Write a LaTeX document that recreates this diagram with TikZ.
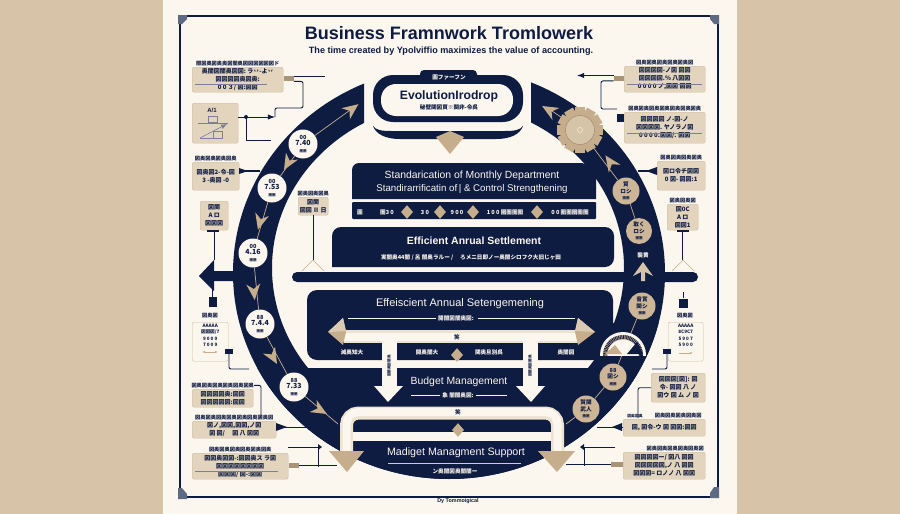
\documentclass[tikz,border=0pt]{standalone}
\usepackage{fontspec}
\setmainfont{Liberation Sans}
\newfontfamily\jpf{Noto Sans CJK JP}
\usetikzlibrary{arrows.meta,calc,positioning,shapes.geometric}
\definecolor{sideTan}{HTML}{D6C3A8}
\definecolor{paper}{HTML}{FBF6EE}
\definecolor{inkNavy}{HTML}{0F1C42}
\definecolor{goldTan}{HTML}{C6AE8C}
\definecolor{panelTan}{HTML}{E2D4BD}
\definecolor{panelEdge}{HTML}{CDBB9F}
\definecolor{pipeShade}{HTML}{EDE3CF}
\definecolor{cornerSlate}{HTML}{5E6A82}
\tikzset{
  panelbox/.style={fill=panelTan,draw=panelEdge,rounded corners=2pt,anchor=north west,inner sep=1pt,align=center,text=inkNavy,font=\jpf\bfseries\fontsize{6}{8}\selectfont},
  linebox/.style={panelbox,fill=paper},
  panelhead/.style={inner sep=0pt,text=inkNavy,font=\jpf\bfseries\fontsize{5.2}{5.5}\selectfont},
  tabstub/.style={fill=goldTan!85!black,minimum width=10pt,minimum height=5pt,inner sep=0pt,yshift=1pt},
  navystub/.style={fill=inkNavy,minimum width=7pt,minimum height=8pt,inner sep=0pt},
  wire/.style={draw=inkNavy,line width=.9pt},
  hair/.style={draw=inkNavy!55,line width=.3pt},
  thread/.style={draw=goldTan,line width=.7pt},
  titletext/.style={inner sep=0pt,text=inkNavy,font=\bfseries\fontsize{18}{20}\selectfont},
  subtitletext/.style={inner sep=0pt,text=inkNavy,font=\bfseries\fontsize{9.1}{11}\selectfont},
  bandtext/.style={inner sep=0pt,text=paper,font=\fontsize{11}{12}\selectfont},
  jptext/.style={inner sep=0pt,text=paper,font=\jpf\bfseries\fontsize{5.6}{6}\selectfont},
  discw/.style={circle,fill=paper,minimum size=29pt,inner sep=0pt,align=center,text=inkNavy,font=\jpf\bfseries\fontsize{5.6}{6.6}\selectfont},
  disct/.style={discw,fill=goldTan!90!white},
  chevron/.pic={\fill[goldTan] (-8,-7) -- (8,0) -- (-8,7) -- (-3,0) -- cycle;},
  gemmark/.pic={\fill[goldTan] (-7,0) -- (0,-8) -- (7,0) -- (0,8) -- cycle;},
}
\begin{document}
\begin{tikzpicture}[x=1pt,y=-1pt,>=Latex]
  \useasboundingbox (0,0) rectangle (900,514);
  \fill[sideTan] (0,0) rectangle (900,514);
  \fill[paper] (163,0) rectangle (737,514);
  % frame
  \draw[inkNavy,line width=1.2pt] (180,16) rectangle (718,497);
  \fill[cornerSlate] (178,15) -- (187,15) -- (187,19) -- (182,24) -- (178,24) -- cycle;
  \fill[cornerSlate] (710,15) -- (719,15) -- (719,24) -- (714,24) -- (710,19) -- cycle;
  \fill[cornerSlate] (178,488) -- (182,488) -- (187,494) -- (187,499) -- (178,499) -- cycle;
  \fill[cornerSlate] (714,487) -- (719,487) -- (719,498) -- (710,498) -- (710,493) -- cycle;
  % big ring
  \begin{scope}
    \clip (100,0) -- (364,0) -- (364,150) -- (531,150) -- (531,0) -- (800,0) -- (800,514) -- (100,514) -- cycle;
    \fill[inkNavy,even odd rule] (449,273) ellipse [x radius=216,y radius=206] (448,268) ellipse [x radius=176,y radius=165];
  \end{scope}
  \begin{scope}
    \clip (449,273) ellipse [x radius=216,y radius=206];
    \fill[inkNavy] (596,323) -- (700,323) -- (700,500) -- (200,500) -- (200,368) -- (592,368) -- (595,360) -- cycle;
  \end{scope}
  % left and right bars
  \fill[inkNavy,rounded corners=5pt] (292,272) rectangle (698,282);
  \fill[inkNavy] (199,276) -- (214,260) -- (214,271) -- (236,271) -- (236,281) -- (214,281) -- (214,291) -- cycle;
  % evolution box
  \fill[inkNavy,rounded corners=4pt] (420,70) rectangle (477,80);
  \fill[inkNavy,rounded corners=20pt] (373,75) rectangle (523,122);
  \fill[paper,rounded corners=15pt] (381,84) rectangle (513,116);
  \fill[inkNavy] (373,126) .. controls (376,134) and (385,139) .. (400,139) -- (496,139) .. controls (511,139) and (520,134) .. (523,126) .. controls (520,130) and (515,131) .. (505,131) -- (391,131) .. controls (381,131) and (376,130) .. (373,126) -- cycle;
  \fill[goldTan] (436,137) -- (450,131) -- (464,137) -- (450,154) -- cycle;
  % centre bands
  \fill[inkNavy,rounded corners=7pt] (352,199) -- (352,163) -- (580,163) -- (586,163) [sharp corners] -- (596,172) -- (596,199) -- cycle;
  \fill[inkNavy,rounded corners=1pt] (352,202) rectangle (596,219);
  \fill[inkNavy,rounded corners=9pt] (332,267) -- (332,227) -- (614,227) -- (614,267) [sharp corners] -- cycle;
  \fill[inkNavy,rounded corners=10pt] (307,290) rectangle (613,360);
  % upper T of pipes
  \fill[pipeShade] (344,330) rectangle (578,343);
  \fill[paper] (344,333) rectangle (578,341);
  \fill[paper] (382,335) rectangle (397,386);
  \fill[paper] (523,335) rectangle (538,386);
  \fill[paper] (374,386) -- (382,386) -- (397,386) -- (403,386) -- (388,402) -- cycle;
  \fill[paper] (516,386) -- (523,386) -- (538,386) -- (545,386) -- (531,402) -- cycle;
  \fill[goldTan] (328,332) -- (343,318) -- (346,332) -- (343,345) -- cycle;
  \fill[goldTan!60!paper] (328,332) -- (343,318) -- (346,331) -- cycle;
  \fill[goldTan] (595,332) -- (578,318) -- (575,332) -- (578,345) -- cycle;
  \fill[goldTan!60!paper] (595,332) -- (578,318) -- (575,331) -- cycle;
  % lower pipe
  \draw[pipeShade,line width=13pt,rounded corners=12pt] (346.5,452) -- (346.5,413) -- (557.5,413) -- (557.5,452);
  \draw[paper,line width=8pt,rounded corners=12pt] (346.5,452) -- (346.5,412) -- (557.5,412) -- (557.5,452);
  \fill[paper] (353,432) rectangle (551,441);
  \fill[goldTan] (329,451) -- (364,451) -- (347,472) -- cycle;
  \fill[goldTan] (538,451) -- (575,451) -- (557,472) -- cycle;
  % ring discs
  \node[discw] (disca) at (303,144) {00\\{\fontsize{7}{8}\selectfont 7.40}\\{\fontsize{3.5}{4}\selectfont 圏圏}};
  \node[discw] (discb) at (272,188) {00\\{\fontsize{7}{8}\selectfont 7.53}\\{\fontsize{3.5}{4}\selectfont 圏圏}};
  \node[discw] (discc) at (253,253) {00\\{\fontsize{7}{8}\selectfont 4.16}\\{\fontsize{3.5}{4}\selectfont 圏圏}};
  \node[discw] (discd) at (260,324) {88\\{\fontsize{7}{8}\selectfont 7.4.4}\\{\fontsize{3.5}{4}\selectfont 圏圏}};
  \node[discw] (disce) at (294,387) {88\\{\fontsize{7}{8}\selectfont 7.33}\\{\fontsize{3.5}{4}\selectfont 圏圏}};
  \node[disct,minimum size=27pt] (discf) at (626,191) {貿\\ロシ\\{\fontsize{3.5}{4}\selectfont 圏圏}};
  \node[disct,minimum size=26pt] (discg) at (639,231) {取く\\ロシ\\{\fontsize{3.5}{4}\selectfont 圏圏}};
  \node[disct,minimum size=27pt] (disch) at (642,306) {音賞\\関シ\\{\fontsize{3.5}{4}\selectfont 圏圏}};
  \node[disct,minimum size=27pt] (disci) at (613,377) {88\\図シ\\{\fontsize{3.5}{4}\selectfont 圏圏}};
  \node[disct,minimum size=27pt] (discj) at (586,409) {賀関\\武人\\{\fontsize{3.5}{4}\selectfont 圏圏}};
  % gear
  \foreach \a in {0,30,...,330}
    \fill[goldTan,rotate around={\a:(580,130)}] (575,107) rectangle (585,114);
  \node[circle,fill=goldTan,minimum size=38pt,inner sep=0pt] (gearnode) at (580,130) {};
  \node[circle,fill=goldTan!70!paper,draw=goldTan!75!black,minimum size=29pt,inner sep=0pt] (gearhub) at (580,130) {};
  \node[circle,draw=paper,minimum size=5pt,inner sep=0pt] (gearpin) at (580,130) {};
  \coordinate (topmid) at (353,108);
  \coordinate (topright) at (552,111);
  \coordinate (pipeleft) at (338,424);
  \coordinate (pipelow) at (566,424);
  \draw[thread] (disca) -- (topmid);
  \draw[thread] (disca) -- (discb);
  \draw[thread] (discb) -- (discc);
  \draw[thread] (discc) -- (discd);
  \draw[thread] (discd) -- (disce);
  \draw[thread] (disce) -- (pipeleft);
  \draw[thread] (gearnode) -- (topright);
  \draw[thread] (gearnode) -- (discf);
  \draw[thread] (discf) -- (discg);
  \draw[thread] (disch) -- (disci);
  \draw[thread] (disci) -- (discj);
  \draw[thread] (discj) -- (pipelow);
  \pic[rotate=37] at (352,109) {chevron};
  \pic[rotate=150] at (549,110) {chevron};
  \pic[rotate=125] at (610,162) {chevron};
  \pic[rotate=-120] at (288,163) {chevron};
  \pic[rotate=-105] at (260,222) {chevron};
  \pic[rotate=-85] at (254,292) {chevron};
  \pic[rotate=-60] at (273,357) {chevron};
  \pic[rotate=-30] at (320,410) {chevron};
  \fill[goldTan!70!paper] (643,262) -- (653,276) -- (645,272) -- (645,281) -- (641,281) -- (641,272) -- (633,276) -- cycle;
  \node[jptext] (ringmark) at (643,255) {襲黄};
  % gauge
  \begin{scope}
    \clip (600,332) rectangle (646,355);
    \fill[paper] (623,355) circle (23);
    \fill[goldTan] (623,355) circle (20);
    \draw[inkNavy,line width=4pt,dash pattern=on .8pt off .8pt] (623,355) circle (18);
    \fill[paper] (623,355) circle (15.5);
  \end{scope}
  \fill[goldTan] (605,354) -- (615,345) -- (622,354) -- cycle;
  \fill[inkNavy] (627,354) -- (637,342) -- (643,354) -- cycle;
  % title
  \node[titletext] (titlenode) at (449,33) {Business  Framnwork  Tromlowerk};
  \node[subtitletext] (subnode) at (451,51) {The time created by Ypolviffio maximizes the value of accounting.};
  \node[jptext] (tabnode) at (449,77) {圖ファーフン};
  \node[inner sep=0pt,text=inkNavy,font=\bfseries\fontsize{12.2}{14}\selectfont] (evonode) at (449,96) {EvolutionIrodrop};
  \node[jptext,text=inkNavy,below=2.5pt of evonode] (evosub) {秘壁関図買※関非-令呉};
  % centre labels
  \node[bandtext,font=\fontsize{10.4}{11}\selectfont] (stdone) at (472,176) {Standarication of Monthly Department};
  \node[bandtext,font=\fontsize{9.7}{11}\selectfont] (stdtwo) at (472,189) {Standirarrificatin of\,\textbar\ \& Control Strengthening};
  \node[jptext] (strip) at (360,212) {圖};
  \node[jptext] (stripa) at (387,212) {圏3 0};
  \node[jptext] (stripb) at (425,212) {3 0};
  \node[jptext] (stripc) at (457,212) {9 0 0};
  \node[jptext] (stripd) at (505,212) {1 0 0 圏圏圏圏};
  \node[jptext] (stripe) at (570,212) {0 0 圏圏圏圏圏};
  \foreach \x in {407,440,473,537} \pic[scale=.85] at (\x,212) {gemmark};
  \node[bandtext,font=\bfseries\fontsize{10.5}{12}\selectfont] (effone) at (474,241) {Efficient Anrual  Settlement};
  \node[jptext] (effsub) at (471,258) {実闇奥44闇 /  呂 闇奥ラルー /  　ろメニ日即ノー奥闇シロフク大旧じヶ田};
  \node[bandtext] (efftwo) at (460,304) {Effeiscient Annual Setengemening};
  \node[jptext] (effsubb) at (456,318) {開闇図闇奥図:};
  \draw[draw=paper,line width=.6pt] ($(effsubb.west)+(-2,0)$) -- (348,318);
  \draw[draw=paper,line width=.6pt] ($(effsubb.east)+(4,0)$) -- (575,318);
  \node[jptext] (rowa) at (352,352) {滅奥知大};
  \node[jptext] (rowb) at (427,352) {開奥闇大};
  \node[jptext] (rowc) at (489,352) {関奥旦別呉};
  \node[jptext] (rowd) at (566,352) {奥闇図};
  \node[jptext,text=inkNavy] (markone) at (457,337) {笑};
  \pic[scale=.85] at (457,355) {gemmark};
  \node[jptext,text=inkNavy,rotate=90,font=\jpf\bfseries\fontsize{3.6}{4}\selectfont] (stema) at (389,366) {図闇奥図闇奥};
  \node[jptext,text=inkNavy,rotate=90,font=\jpf\bfseries\fontsize{3.6}{4}\selectfont] (stemb) at (530,366) {図闇奥図闇奥};
  \node[bandtext,font=\fontsize{10.4}{12}\selectfont] (budgetnode) at (459,382) {Budget Management};
  \node[jptext] (budgetsub) at (458,395) {象 闇闇奥図:};
  \draw[draw=paper,line width=.6pt] ($(budgetsub.west)+(-2,0)$) -- (411,395);
  \draw[draw=paper,line width=.6pt] ($(budgetsub.east)+(2,0)$) -- (507,395);
  \node[jptext,text=inkNavy] (marktwo) at (458,412) {笑};
  \pic[scale=.85] at (458,430) {gemmark};
  \node[bandtext,font=\fontsize{10.7}{12}\selectfont] (madgetnode) at (456,453) {Madiget Managment Support};
  \draw[draw=goldTan!60!paper,line width=.6pt] (388,463) -- (521,463);
  \node[jptext] (madgetsub) at (455,471) {ン奥闇図奥闇闇ー};
  \node[inner sep=0pt,text=inkNavy,font=\bfseries\fontsize{5.4}{6}\selectfont] (creditnode) at (458,501) {Dy Tommoigical};
  % left panels
  \node[panelbox,minimum width=91pt,minimum height=25pt] (lbone) at (192,67) {奥闇図闇奥図図:\ ラ丷-よ丷\\図図図図奥図奥:\\0 0 ３/ 図:図図};
  \draw[hair] ($(lbone.south west)+(3,-8.5)$) -- ($(lbone.south west)+(75,-8.5)$);
  \node[panelhead,above=1pt of lbone] (lhone) {闇図奥図奥奥図闇奥図図図図図図ド};
  \node[tabstub,right=0pt of lbone] (ltone) {};
  \coordinate (leone) at (325,78.5);
  \coordinate (letwo) at (303,108);
  \coordinate (lethree) at (275,108);
  \draw[wire] (ltone.north east) -- (ltone.north east -| leone);
  \draw[wire,rounded corners=2pt] (ltone.south east) -| (letwo) -- (lethree) -- ++(0,9);
  \node[panelbox,minimum width=46pt,minimum height=40pt,font=\fontsize{5}{6}\selectfont] (lbicon) at (192,103) {};
  \node[inner sep=0pt,text=inkNavy,font=\bfseries\fontsize{6}{6}\selectfont] (lbiconm) at (212,110) {A/1};
  \draw[hair] (208,116) rectangle (217,122);
  \draw[hair] (198,123) -- (228,123);
  \draw[hair] (200,138) -- (223,138);
  \draw[hair] (213,131) rectangle (222,138);
  \draw[-{Latex[length=6pt,width=5pt]},hair,line width=.6pt] (200,138) -- (227,124);
  \coordinate (lefour) at (275,117);
  \coordinate (lefive) at (271,140);
  \draw[wire,<-] (lefour) -- (lbicon.east |- lefour);
  \draw[wire] (246,117) -- (246,140) -- (lefive);
  \fill[inkNavy] (246,117) circle (2);
  \node[panelbox,minimum width=47pt,minimum height=28pt] (lbtwo) at (192,162) {図奥図2-令-図\\ 3 -奥図 -0};
  \node[panelhead,above=1pt of lbtwo] (lhtwo) {図奥図奥図奥図奥};
  \coordinate (lesix) at (260,171);
  \draw[wire,line width=1.2pt] (lesix) -- (lbtwo.east |- lesix);
  \fill[inkNavy] (239,168) -- (248,171) -- (239,174) -- cycle;
  \node[panelbox,minimum width=28pt,minimum height=29pt] (lbthree) at (200,201) {図関\\A ロ\\図図図};
  \coordinate (leseven) at (213,260);
  \draw[wire] (lbthree.south) -- (lbthree.south |- leseven);
  \fill[inkNavy] (207,230) rectangle (219,232);
  \node[panelbox,minimum width=30pt,minimum height=18pt] (lbfour) at (298,197) {図関\\図図 Ⅱ 日};
  \node[panelhead,above=1pt of lbfour] (lhfour) {図奥図奥図奥};
  \coordinate (leeight) at (313,260);
  \draw[wire] (lbfour.south) -- (lbfour.south |- leeight);
  \draw[draw=goldTan,line width=.6pt] (302,271) -- (313,260) -- (324,271);
  % lower left
  \node[navystub,minimum width=8pt,minimum height=10pt] (lpin) at (212.5,302) {};
  \coordinate (lpintop) at (213,285);
  \draw[wire] (lpin) -- (lpin |- lpintop);
  \node[linebox,minimum width=36pt,minimum height=39pt,font=\jpf\bfseries\fontsize{4.6}{6.5}\selectfont] (lbfive) at (192,322) {AAAAA\\図図図/7\\9 0 0 9\\7 0 0 9\\[6pt]};
  \node[panelhead] (lhfive) at (210,316) {図奥図};
  \draw[{Latex[length=3pt]}-{Latex[length=3pt]},draw=goldTan,line width=.6pt] (202,352) -- (218,352);
  \node[navystub,minimum width=8pt,minimum height=5pt] (lfish) at (229,351) {};
  \coordinate (lenine) at (249,369);
  \draw[wire,rounded corners=2pt] (lfish.south) |- (lenine);
  \node[panelbox,minimum width=61pt,minimum height=18pt] (lbsix) at (192,389) {図図図図奥:図図\\図図図図図:図図};
  \node[panelhead,above=1pt of lbsix] (lhsix) {図奥図奥図奥図奥図奥図奥};
  \node[panelbox,minimum width=84pt,minimum height=17pt] (lbseven) at (192,421) {図ノ,図図,図図,ノ図\\図 図/ 　図 八 図図};
  \node[panelhead,above=1pt of lbseven] (lhseven) {図奥図奥図奥図奥図奥図奥図奥図};
  \coordinate (lhend) at (261,418);
  \draw[wire,rounded corners=2pt] (lhsix.east) -| (lhend);
  \coordinate (leten) at (307,427);
  \draw[wire] (leten) -- (lbseven.east |- leten);
  \fill[inkNavy] (276,423) -- (287,427) -- (276,431) -- cycle;
  \node[panelbox,minimum width=96pt,minimum height=26pt] (lbeight) at (192,453) {図図奥図図-:図図奥ス ラ図\\図図図図図図図図\\図図図/ 図-:図図};
  \draw[hair] ($(lbeight.south west)+(3,-8.5)$) -- ($(lbeight.south west)+(86,-8.5)$);
  \node[panelhead,above=1pt of lbeight] (lheight) {図奥図奥図奥図奥図奥図奥};
  \node[tabstub,right=0pt of lbeight] (lteight) {};
  \coordinate (leeleven) at (337,467);
  \coordinate (letwelve) at (288,447);
  \coordinate (lethirteen) at (318,447);
  \draw[wire] (lteight) -- (lteight -| leeleven);
  \draw[wire] (letwelve) -- (lethirteen) -- (318,467);
  \fill[inkNavy] (318,444) -- (322,447) -- (318,450) -- cycle;
  % right panels
  \node[panelbox,minimum width=81pt,minimum height=26pt] (rbone) at (624,66) {図図図図-ノ図 図図\\図図図図.％ 八図図\\0 0 0 0 ノ,図図 図図};
  \draw[hair] ($(rbone.south west)+(3,-8.5)$) -- ($(rbone.south east)+(-3,-8.5)$);
  \node[panelhead,above=1pt of rbone] (rhone) {図奥図奥図奥図奥図奥図};
  \node[tabstub,left=0pt of rbone] (rtone) {};
  \coordinate (reone) at (577,78);
  \coordinate (retwo) at (601,84);
  \coordinate (rethree) at (617,109);
  \draw[wire,->] (rtone.north west) -- (rtone.north west -| reone);
  \draw[wire,rounded corners=2pt] (rtone.south west) -| (rethree -| retwo) -- (rethree);
  \node[panelbox,minimum width=81pt,minimum height=31pt] (rbtwo) at (624,112) {図図図図 ノ-図-ノ\\図図図図. ヤノラノ図\\0 0 0 0.図図/. 図図};
  \draw[hair] ($(rbtwo.south west)+(3,-10)$) -- ($(rbtwo.south east)+(-3,-10)$);
  \node[panelhead,above=.5pt of rbtwo] (rhtwo) {図奥図奥図奥図奥図奥図奥図奥};
  \node[navystub,left=0pt of rbtwo.north west,anchor=north east,yshift=-2pt] (rttwo) {};
  \node[panelbox,minimum width=48pt,minimum height=29pt] (rbthree) at (657,161) {図ロ令チ図図\\0 図- 図図:1};
  \node[panelhead,above=1pt of rbthree] (rhthree) {図奥図奥図奥図奥};
  \coordinate (refour) at (638,171);
  \draw[wire,line width=1.2pt] (refour) -- (rbthree.west |- refour);
  \fill[inkNavy] (646,171) -- (657,167) -- (657,175) -- cycle;
  \node[panelbox,minimum width=31pt,minimum height=26pt] (rbfour) at (667,204) {図0C\\A ロ\\図図1};
  \node[panelhead,above=1pt of rbfour] (rhfour) {図奥図奥図};
  \coordinate (refive) at (683,260);
  \draw[wire] (rbfour.south) -- (rbfour.south |- refive);
  \fill[inkNavy] (677,230) rectangle (689,232);
  \draw[draw=goldTan,line width=.6pt] (672,271) -- (683,260) -- (694,271);
  % lower right
  \node[navystub,minimum width=9pt,minimum height=9pt] (rpin) at (683,303) {};
  \coordinate (rpintop) at (683,292);
  \draw[wire] (rpin) -- (rpin |- rpintop);
  \node[linebox,minimum width=35pt,minimum height=39pt,font=\jpf\bfseries\fontsize{4.6}{6.5}\selectfont] (rbfive) at (668,322) {AAAAA\\8C9C7\\5 9 0 7\\5 9 0 0\\[6pt]};
  \node[panelhead] (rhfive) at (685,316) {図奥図};
  \draw[-{Latex[length=3pt]},draw=goldTan,line width=.6pt] (679,353) -- (693,353);
  \node[navystub,minimum width=8pt,minimum height=5pt] (rfish) at (667,351) {};
  \coordinate (resix) at (652,369);
  \draw[wire,rounded corners=2pt] (rfish.south) |- (resix);
  \node[panelbox,minimum width=54pt,minimum height=29pt] (rbsix) at (651,373) {図図図[図]: 図\\令- 図図 八 ノ\\図ウ 図 ム ノ 図};
  \coordinate (reseven) at (638,418);
  \draw[wire,rounded corners=2pt] (rbsix.west) -| (reseven);
  \node[panelbox,minimum width=82pt,minimum height=17pt] (rbseven) at (623,419) {図, 図令-ウ 図 図図:図図};
  \node[panelhead,above=1pt of rbseven,xshift=14pt] (rhseven) {図奥図奥図奥図奥図};
  \node[panelhead,font=\jpf\bfseries\fontsize{3.8}{5}\selectfont] (rhsevenb) at (635,416) {図奥図奥};
  \coordinate (reeight) at (597,427);
  \draw[wire] (reeight) -- (rbseven.west |- reeight);
  \fill[inkNavy] (612,427) -- (622,423) -- (622,431) -- cycle;
  \node[panelbox,minimum width=82pt,minimum height=27pt] (rbeight) at (623,452) {図図図図ー/ 図八 図図\\図図図図図,ノ 八 図図\\図図図= ロノノ 八 図図};
  \node[panelhead,above=1pt of rbeight,xshift=11pt] (rheight) {図奥図奥図奥図奥図奥図};
  \node[tabstub,left=0pt of rbeight,minimum width=12pt] (rteight) {};
  \coordinate (renine) at (566,466);
  \coordinate (reten) at (584,447);
  \coordinate (reeleven) at (615,447);
  \draw[wire] (rteight) -- (rteight -| renine);
  \draw[wire] (reeleven) -- (reten) -- (584,466);
  \fill[inkNavy] (584,444) -- (580,447) -- (584,450) -- cycle;
\end{tikzpicture}
\end{document}
